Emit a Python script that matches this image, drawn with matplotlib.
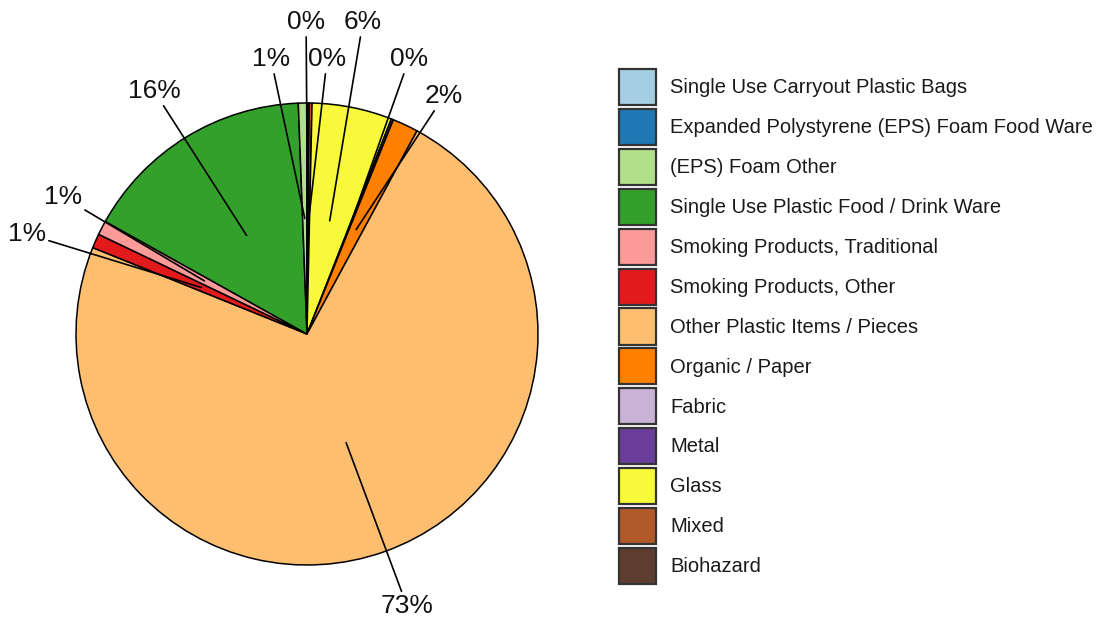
import numpy as np
import matplotlib
matplotlib.use("Agg")
import matplotlib.pyplot as plt
from matplotlib.patches import Patch

plt.rcParams['font.family'] = ['Liberation Sans', 'DejaVu Sans']

# litter categories, in legend order
categories = [
    "Single Use Carryout Plastic Bags",
    "Expanded Polystyrene (EPS) Foam Food Ware",
    "(EPS) Foam Other",
    "Single Use Plastic Food / Drink Ware",
    "Smoking Products, Traditional",
    "Smoking Products, Other",
    "Other Plastic Items / Pieces",
    "Organic / Paper",
    "Fabric",
    "Metal",
    "Glass",
    "Mixed",
    "Biohazard",
]
# share of collected items (%)
shares = [0.0, 0.0, 0.6, 16.3, 1.0, 1.0, 73.2, 1.8, 0.0, 0.15, 5.6, 0.2, 0.15]
colors = ["#A6CEE3", "#1F78B4", "#B2DF8A", "#33A02C", "#FB9A99", "#E31A1C",
          "#FDBF6F", "#FF7F00", "#CAB2D6", "#6A3D9A", "#F9F93C", "#B15928",
          "#5C3D2E"]

# where the percent labels sit, in pie-radius units
label_pos = {
    "Biohazard": (-0.004, 1.35),
    "Mixed": (0.087, 1.19),
    "Glass": (0.242, 1.35),
    "Metal": (0.442, 1.19),
    "Organic / Paper": (0.593, 1.03),
    "Other Plastic Items / Pieces": (0.433, -1.178),
    "Smoking Products, Other": (-1.212, 0.433),
    "Smoking Products, Traditional": (-1.056, 0.593),
    "Single Use Plastic Food / Drink Ware": (-0.662, 1.052),
    "(EPS) Foam Other": (-0.156, 1.19),
}

W, H = 1101, 622
cx, cy, R = 307, 334, 231  # pie centre and radius in pixels

fig = plt.figure(figsize=(W / 100, H / 100), dpi=100)
ax = fig.add_axes([0, 0, 620 / W, 1])

# pie runs clockwise from 12 o'clock, starting with the last category
vals = shares[::-1]
names = categories[::-1]
ax.pie(vals, colors=colors[::-1], startangle=90, counterclock=False,
       radius=1, wedgeprops=dict(edgecolor='black', linewidth=1.1))

ax.set_xlim(-cx / R, (620 - cx) / R)
ax.set_ylim((cy - H) / R, cy / R)

total = sum(vals)
cum = np.concatenate([[0], np.cumsum(vals)])
for i, (name, v) in enumerate(zip(names, vals)):
    if v <= 0:
        continue
    mid = np.deg2rad(90 - 360 * (cum[i] + cum[i + 1]) / 2 / total)
    anchor = (0.5 * np.cos(mid), 0.5 * np.sin(mid))
    ax.annotate(f"{round(v)}%", xy=anchor, xytext=label_pos[name],
                ha='center', va='center', fontsize=19, color='#111111',
                arrowprops=dict(arrowstyle='-', lw=1.2, color='black',
                                shrinkA=0, shrinkB=0))

handles = [Patch(facecolor=c, edgecolor='#333333', linewidth=1.6)
           for c in colors]
fig.legend(handles, categories, loc='upper left',
           bbox_to_anchor=(619 / W, 1 - 69 / H), frameon=False,
           fontsize=14.5, handlelength=1.85, handleheight=2.38,
           handletextpad=0.68, labelspacing=0.19, borderpad=0,
           borderaxespad=0, labelcolor='#1a1a1a')

fig.savefig("out.png", dpi=100)
